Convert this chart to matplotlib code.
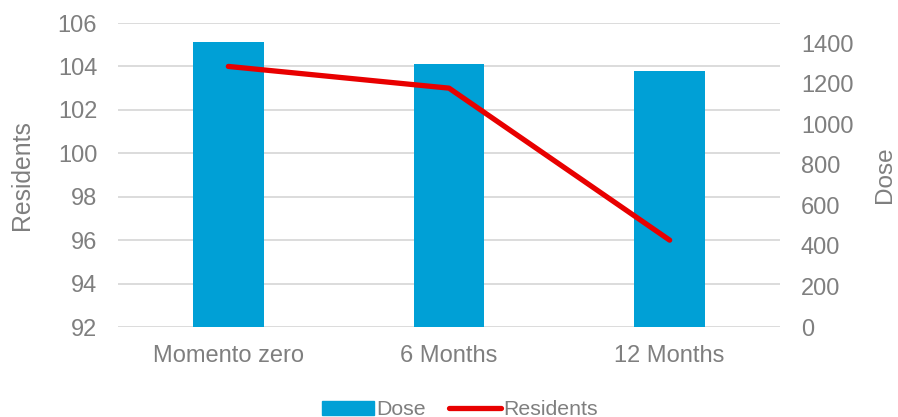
import matplotlib.pyplot as plt
from matplotlib.patches import Patch
from matplotlib.lines import Line2D

# data
categories = ["Momento zero", "6 Months", "12 Months"]
dose = [1405, 1300, 1265]
residents = [104, 103, 96]

resid_ticks = [92, 94, 96, 98, 100, 102, 104, 106]
dose_ticks = [0, 200, 400, 600, 800, 1000, 1200, 1400]

BAR_COLOR = "#00A0D6"
LINE_COLOR = "#E80000"
TEXT_COLOR = "#7F7F7F"
GRID_COLOR = "#D9D9D9"

plt.rcParams["font.family"] = ["Liberation Sans", "DejaVu Sans"]

fig = plt.figure(figsize=(8.98, 4.17), dpi=100)
ax = fig.add_axes([118 / 898, 1 - 327 / 417, 662 / 898, 304 / 417])
x = list(range(len(categories)))

# base axes: residents scale, grid and left labels
ax.set_ylim(92, 106)
ax.set_yticks(resid_ticks)
ax.set_xlim(-0.5, len(categories) - 0.5)
ax.set_xticks(x)
ax.set_xticklabels(categories)
ax.grid(axis="y", color=GRID_COLOR, lw=1.3)
ax.set_axisbelow(True)
ax.tick_params(axis="both", length=0, labelsize=17, colors=TEXT_COLOR)
ax.tick_params(axis="y", pad=15)
ax.tick_params(axis="x", pad=13)
ax.set_ylabel("Residents", fontsize=17.8, color=TEXT_COLOR, labelpad=17)
for s in ax.spines.values():
    s.set_visible(False)

# dose bars on the right axis
axd = ax.twinx()
axd.bar(x, dose, width=0.32, color=BAR_COLOR, zorder=2)
axd.set_ylim(0, 1500)
axd.set_yticks(dose_ticks)
axd.tick_params(axis="y", length=0, labelsize=17, colors=TEXT_COLOR, pad=15)
axd.set_ylabel("Dose", fontsize=17.5, color=TEXT_COLOR, labelpad=15)
for s in axd.spines.values():
    s.set_visible(False)

# residents line on top of the bars
axl = ax.twinx()
axl.plot(x, residents, color=LINE_COLOR, lw=3.8, solid_capstyle="round")
axl.set_ylim(ax.get_ylim())
axl.set_yticks([])
for s in axl.spines.values():
    s.set_visible(False)

handles = [
    Patch(color=BAR_COLOR),
    Line2D([0], [0], color=LINE_COLOR, lw=3.8, solid_capstyle="round"),
]
fig.legend(handles, ["Dose", "Residents"], loc="center",
           bbox_to_anchor=(0.512, 0.017), ncol=2, frameon=False,
           fontsize=15.3, handlelength=2.45, handleheight=0.7,
           handletextpad=0.1, columnspacing=1.1, labelcolor=TEXT_COLOR)

fig.savefig("out.png", dpi=100)
